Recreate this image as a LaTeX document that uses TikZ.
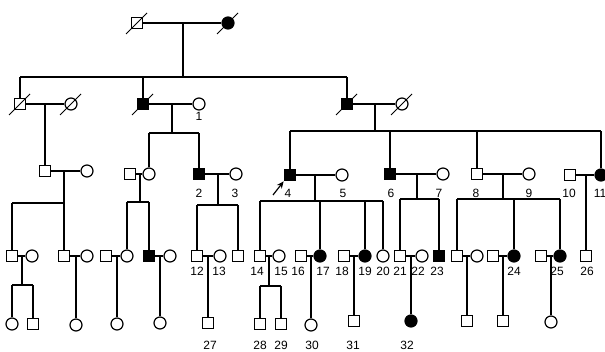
\documentclass[tikz,border=0pt]{standalone}
\usepackage{fontspec}
\setmainfont{Liberation Sans}
\usetikzlibrary{arrows.meta}
\newcommand\deadmark[1]{\draw[slashln] ([shift={(-11,11)}]#1.center) -- ([shift={(10,-10)}]#1.center);}
\begin{document}
\begin{tikzpicture}[x=1pt,y=-1pt,line width=1.2pt,
  male/.style={draw,rectangle,minimum size=11.5pt,inner sep=0pt,fill=white},
  fem/.style={draw,circle,minimum size=12pt,inner sep=0pt,fill=white},
  aff/.style={fill=black},
  lbl/.style={font=\fontsize{12}{13}\selectfont,inner sep=0pt},
  slashln/.style={line width=1pt}]
\useasboundingbox[fill=white] (0,0) rectangle (605,352);
% ---------- Generation I
\node[male] (I1) at (137,23) {};
\node[fem,aff] (I2) at (228,23) {};
% ---------- Generation II
\node[male] (IIa) at (20,104) {};
\node[fem] (IIb) at (71,104) {};
\node[male,aff] (II2) at (143,104) {};
\node[fem] (P1) at (199,104) {};
\node[male,aff] (IIr) at (347,104) {};
\node[fem] (IIw) at (402,104) {};
% ---------- Generation III
\node[male] (IIIa) at (45,171) {};
\node[fem] (IIIb) at (87,171) {};
\node[male] (IIIh) at (130,174) {};
\node[fem] (IIIc) at (149,174) {};
\node[male,aff] (S2) at (199,174) {};
\node[fem] (C3) at (236,174) {};
\node[male,aff] (S4) at (290,175) {};
\node[fem] (C5) at (342,175) {};
\node[male,aff] (S6) at (390,174) {};
\node[fem] (C7) at (443,174) {};
\node[male] (S8) at (477,174) {};
\node[fem] (C9) at (529,174) {};
\node[male] (S10) at (570,175) {};
\node[fem,aff] (C11) at (601,175) {};
% ---------- Generation IV
\node[male] (A1) at (12,256) {};
\node[fem] (A2) at (32,256) {};
\node[male] (B1) at (64,256) {};
\node[fem] (B2) at (87,256) {};
\node[male] (D1) at (106,256) {};
\node[fem] (D2) at (127,256) {};
\node[male,aff] (E1) at (149,256) {};
\node[fem] (E2) at (170,256) {};
\node[male] (S12) at (197,256) {};
\node[fem] (C13) at (220,256) {};
\node[male] (F1) at (238,256) {};
\node[male] (S14) at (260,256) {};
\node[fem] (C15) at (279,256) {};
\node[male] (S16) at (301,256) {};
\node[fem,aff] (C17) at (320,256) {};
\node[male] (S18) at (344,256) {};
\node[fem,aff] (C19) at (365,256) {};
\node[fem] (C20) at (383,256) {};
\node[male] (S21) at (400,256) {};
\node[fem] (C22) at (422,256) {};
\node[male,aff] (S23) at (439,256) {};
\node[male] (G1) at (457,256) {};
\node[fem] (G2) at (477,256) {};
\node[male] (H1) at (493,256) {};
\node[fem,aff] (C24) at (514,256) {};
\node[male] (K1) at (541,256) {};
\node[fem,aff] (C25) at (560,256) {};
\node[male] (S26) at (586,256) {};
% ---------- Generation V
\node[fem] (A3) at (12,324) {};
\node[male] (A4) at (33,324) {};
\node[fem] (B3) at (76,325) {};
\node[fem] (D3) at (117,324) {};
\node[fem] (E3) at (160,323) {};
\node[male] (S27) at (208,323) {};
\node[male] (S28) at (260,324) {};
\node[male] (S29) at (281,324) {};
\node[fem] (C30) at (311,325) {};
\node[male] (S31) at (354,321) {};
\node[fem,aff] (C32) at (411,321) {};
\node[male] (G3) at (467,321) {};
\node[male] (H3) at (503,321) {};
\node[fem] (K3) at (551,322) {};
% ---------- deceased marks
\deadmark{I1}\deadmark{I2}
\deadmark{IIa}\deadmark{IIb}\deadmark{II2}\deadmark{IIr}\deadmark{IIw}
% ---------- proband arrow
\coordinate (p4t) at (273,195);
\draw[-{Stealth[length=7pt,width=6pt]},line width=1.2pt] (p4t) -- (S4.south west);
% ---------- Gen I family
\draw (I1) -- (I2);
\coordinate (mI) at (183,23);
\coordinate (sI) at (183,77);
\draw (mI) -- (sI);
\draw (IIa |- sI) -- (IIr |- sI);
\draw (IIa) -- (IIa |- sI);
\draw (II2) -- (II2 |- sI);
\draw (IIr) -- (IIr |- sI);
% ---------- IIa family
\draw (IIa) -- (IIb);
\coordinate (mIIa) at (45,104);
\draw (mIIa) -- (IIIa);
% ---------- II2 family
\draw (II2) -- (P1);
\coordinate (mII2) at (172,104);
\coordinate (sII2) at (172,133);
\draw (mII2) -- (sII2);
\draw (IIIc |- sII2) -- (S2 |- sII2);
\draw (IIIc) -- (IIIc |- sII2);
\draw (S2) -- (S2 |- sII2);
% ---------- IIr family
\draw (IIr) -- (IIw);
\coordinate (mIIr) at (375,104);
\coordinate (sIIr) at (375,131);
\draw (mIIr) -- (sIIr);
\draw (S4 |- sIIr) -- (C11 |- sIIr);
\draw (S4) -- (S4 |- sIIr);
\draw (S6) -- (S6 |- sIIr);
\draw (S8) -- (S8 |- sIIr);
\draw (C11) -- (C11 |- sIIr);
% ---------- IIIa family
\draw (IIIa) -- (IIIb);
\coordinate (mIIIa) at (64,171);
\coordinate (sIIIa) at (64,203);
\draw (mIIIa) -- (B1);
\draw (A1 |- sIIIa) -- (sIIIa);
\draw (A1) -- (A1 |- sIIIa);
% ---------- IIIc family
\draw (IIIh) -- (IIIc);
\coordinate (mIIIc) at (140,174);
\coordinate (sIIIc) at (140,202);
\draw (mIIIc) -- (sIIIc);
\draw (D2 |- sIIIc) -- (E1 |- sIIIc);
\draw (D2) -- (D2 |- sIIIc);
\draw (E1) -- (E1 |- sIIIc);
% ---------- 2 x 3
\draw (S2) -- (C3);
\coordinate (m23) at (218,174);
\coordinate (s23) at (218,205);
\draw (m23) -- (s23);
\draw (S12 |- s23) -- (F1 |- s23);
\draw (S12) -- (S12 |- s23);
\draw (F1) -- (F1 |- s23);
% ---------- 4 x 5
\draw (S4) -- (C5);
\coordinate (m45) at (315,175);
\coordinate (s45) at (315,201);
\draw (m45) -- (s45);
\draw (S14 |- s45) -- (C20 |- s45);
\draw (S14) -- (S14 |- s45);
\draw (C17) -- (C17 |- s45);
\draw (C19) -- (C19 |- s45);
\draw (C20) -- (C20 |- s45);
% ---------- 6 x 7
\draw (S6) -- (C7);
\coordinate (m67) at (417,174);
\coordinate (s67) at (417,199);
\draw (m67) -- (s67);
\draw (S21 |- s67) -- (S23 |- s67);
\draw (S21) -- (S21 |- s67);
\draw (S23) -- (S23 |- s67);
% ---------- 8 x 9
\draw (S8) -- (C9);
\coordinate (m89) at (503,174);
\coordinate (s89) at (503,199);
\draw (m89) -- (s89);
\draw (G1 |- s89) -- (C25 |- s89);
\draw (G1) -- (G1 |- s89);
\draw (C24) -- (C24 |- s89);
\draw (C25) -- (C25 |- s89);
% ---------- 10 x 11
\draw (S10) -- (C11);
\coordinate (m1011) at (586,175);
\draw (m1011) -- (S26);
% ---------- Gen IV couples
\draw (A1) -- (A2);
\coordinate (mA) at (22,256);
\coordinate (sA) at (22,285);
\draw (mA) -- (sA);
\draw (A3 |- sA) -- (A4 |- sA);
\draw (A3) -- (A3 |- sA);
\draw (A4) -- (A4 |- sA);
\draw (B1) -- (B2);
\coordinate (mB) at (76,256);
\draw (mB) -- (B3);
\draw (D1) -- (D2);
\coordinate (mD) at (117,256);
\draw (mD) -- (D3);
\draw (E1) -- (E2);
\coordinate (mE) at (160,256);
\draw (mE) -- (E3);
\draw (S12) -- (C13);
\coordinate (m1213) at (208,256);
\draw (m1213) -- (S27);
\draw (S14) -- (C15);
\coordinate (m1415) at (269,256);
\coordinate (s1415) at (269,286);
\draw (m1415) -- (s1415);
\draw (S28 |- s1415) -- (S29 |- s1415);
\draw (S28) -- (S28 |- s1415);
\draw (S29) -- (S29 |- s1415);
\draw (S16) -- (C17);
\coordinate (m1617) at (311,256);
\draw (m1617) -- (C30);
\draw (S18) -- (C19);
\coordinate (m1819) at (354,256);
\draw (m1819) -- (S31);
\draw (S21) -- (C22);
\coordinate (m2122) at (411,256);
\draw (m2122) -- (C32);
\draw (G1) -- (G2);
\coordinate (mG) at (467,256);
\draw (mG) -- (G3);
\draw (H1) -- (C24);
\coordinate (mH) at (503,256);
\draw (mH) -- (H3);
\draw (K1) -- (C25);
\coordinate (mK) at (551,256);
\draw (mK) -- (K3);
% ---------- labels
\node[lbl] (L1) at (199,116) {1};
\node[lbl] (L2) at (199,193) {2};
\node[lbl] (L3) at (235,193) {3};
\node[lbl] (L4) at (288,193) {4};
\node[lbl] (L5) at (343,193) {5};
\node[lbl] (L6) at (391,193) {6};
\node[lbl] (L7) at (439,193) {7};
\node[lbl] (L8) at (476,193) {8};
\node[lbl] (L9) at (529,193) {9};
\node[lbl] (L10) at (569,193) {10};
\node[lbl] (L11) at (600,193) {11};
\node[lbl] (L12) at (197,271) {12};
\node[lbl] (L13) at (219,271) {13};
\node[lbl] (L14) at (257,271) {14};
\node[lbl] (L15) at (281,271) {15};
\node[lbl] (L16) at (298,271) {16};
\node[lbl] (L17) at (323,271) {17};
\node[lbl] (L18) at (342,271) {18};
\node[lbl] (L19) at (365,271) {19};
\node[lbl] (L20) at (383,271) {20};
\node[lbl] (L21) at (400,271) {21};
\node[lbl] (L22) at (418,271) {22};
\node[lbl] (L23) at (437,271) {23};
\node[lbl] (L24) at (514,271) {24};
\node[lbl] (L25) at (557,271) {25};
\node[lbl] (L26) at (587,271) {26};
\node[lbl] (L27) at (210,345) {27};
\node[lbl] (L28) at (260,345) {28};
\node[lbl] (L29) at (281,345) {29};
\node[lbl] (L30) at (312,345) {30};
\node[lbl] (L31) at (353,345) {31};
\node[lbl] (L32) at (407,345) {32};
\end{tikzpicture}
\end{document}
